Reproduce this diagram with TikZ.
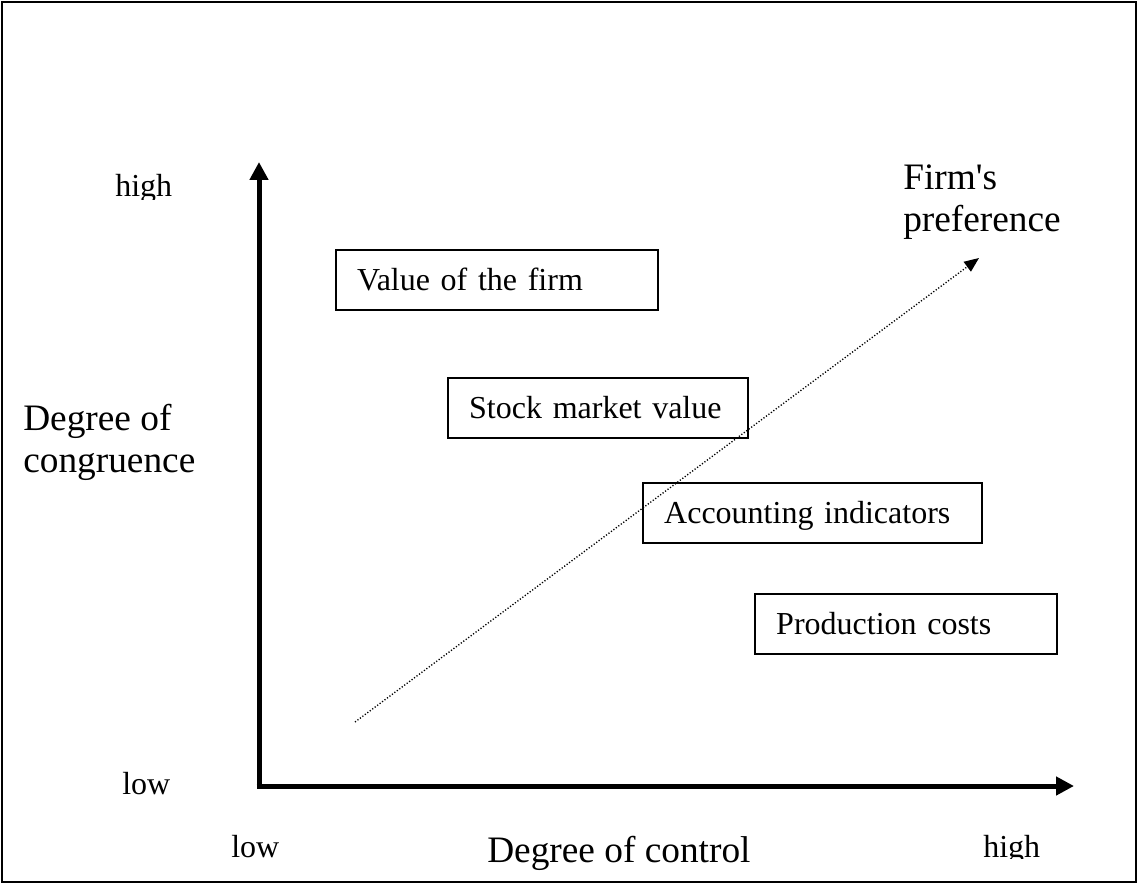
\documentclass[tikz,border=0pt]{standalone}
\usepackage{fontspec}
\setmainfont{Liberation Serif}[Ligatures=TeXOff]
\usetikzlibrary{arrows.meta}
\tikzset{
  x=0.75pt, y=-0.75pt,
  lbl/.style={anchor=base west, inner sep=0pt, font=\fontsize{24}{28}\selectfont},
  biglbl/.style={anchor=base west, inner sep=0pt, font=\fontsize{28}{31.5}\selectfont},
  box/.style={draw, line width=1.3pt, anchor=north west, inner xsep=16pt, inner ysep=0pt,
    align=left, minimum height=45pt, text height=18pt, text depth=1.5pt,
    font=\fontsize{24}{28}\selectfont},
  axis/.style={line width=3.75pt, -{Triangle[length=13.5pt,width=13.5pt]}},
  pref/.style={line width=1pt, dash pattern=on 0.9pt off 1.4pt,
    -{Triangle[length=11pt,width=9pt,sep=0pt]}}
}
\begin{document}
\begin{tikzpicture}
\useasboundingbox (0,0) rectangle (1138,884);
\draw[line width=1.6pt] (2,2) rectangle (1136,882);
% axes
\coordinate (o) at (259,786);
\coordinate (ytop) at (259,162);
\coordinate (xend) at (1074,786);
\coordinate (ystart) at (259,788.5);
\coordinate (xstart) at (256.5,786);
\draw[axis] (ystart) -- (ytop);
\draw[axis] (xstart) -- (xend);
% axis labels
\begin{scope}
  \clip (100,140) rectangle (200,200);
  \node[lbl] (yhigh) at (115,197) {high};
\end{scope}
\node[lbl] (ylow) at (122,794) {low};
\node[lbl] (xlow) at (231,857) {low};
\begin{scope}
  \clip (960,800) rectangle (1060,858.5);
  \node[lbl] (xhigh) at (983,857) {high};
\end{scope}
\node[biglbl] (xtitle) at (487,862) {Degree of control};
\node[biglbl] (ytitle1) at (23,430) {Degree of};
\node[biglbl] (ytitle2) at (23,472) {congruence};
\node[biglbl] (pref1) at (903,190) {Firm's};
\node[biglbl] (pref2) at (903,232) {preference};
% boxes
\node[box, minimum width=241.5pt, text width=209.5pt] (vf) at (335,249) {Value of the firm};
\node[box, minimum width=225pt, text width=193pt] (sm) at (447,377) {Stock market value};
\node[box, minimum width=254.25pt, text width=222.25pt] (ai) at (642,482) {Accounting indicators};
\node[box, minimum width=226.5pt, text width=194.5pt] (pc) at (754,593) {Production costs};
% preference arrow
\coordinate (ps) at (355,722);
\coordinate (pe) at (979,258);
\draw[pref] (ps) -- (pe);
\end{tikzpicture}
\end{document}
